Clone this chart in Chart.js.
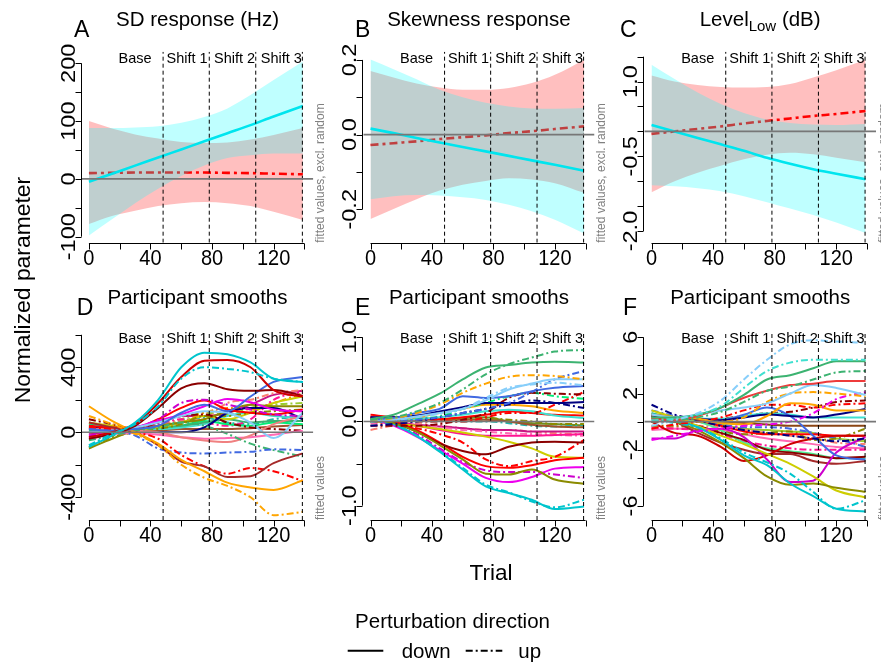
<!DOCTYPE html>
<html lang="en">
<head>
  <meta charset="UTF-8" />
  <title>Normalized parameter by trial</title>
  <script src="https://cdn.jsdelivr.net/npm/chart.js"></script>
  <style>
    body { margin: 0; background: #fff; }
    #wrap { position: relative; width: 881px; height: 662px; }
    canvas { position: absolute; left: 0; top: 0; }
  </style>
</head>
<body>
<div id="wrap">
  <canvas id="pA" width="881" height="662"></canvas>
  <canvas id="pB" width="881" height="662"></canvas>
  <canvas id="pC" width="881" height="662"></canvas>
  <canvas id="pD" width="881" height="662"></canvas>
  <canvas id="pE" width="881" height="662"></canvas>
  <canvas id="pF" width="881" height="662"></canvas>
</div>

<script>
const W = 881, H = 662;
const FONT = '"Liberation Sans", Arial, Helvetica, sans-serif';

// --- shared x data ---
const trialKnots = [0, 15, 30, 45, 60, 75, 90, 105, 120, 139];
const xTicks = [0, 20, 40, 60, 80, 100, 120, 140];
const xTickLabels = ['0', '40', '80', '120'];
const phaseBounds = [48.2, 78.2, 108.4, 138.7];
const phaseNames = ['Base', 'Shift 1', 'Shift 2', 'Shift 3'];
const phaseLabelAt = [30, 63.8, 94.6, 125];
const X_MIN = -4.7, X_MAX = 145.8;

// --- A: SD response (Hz) ---
const sdDown   = [-5, 9, 23, 37, 51, 65, 79, 93, 108, 126];
const sdDownHi = [88, 88, 89, 91, 97, 107, 122, 145, 171, 203];
const sdDownLo = [-98, -70, -42, -17, 5, 23, 36, 41, 44, 44];
const sdUp     = [10, 10.5, 11, 11, 11, 11, 10.5, 10, 9, 8];
const sdUpHi   = [100, 87, 77, 70, 64, 62, 63, 68, 76, 88];
const sdUpLo   = [-78, -64, -55, -47, -42, -40, -42, -47, -57, -71];
const sdTicks  = [-100, -50, 0, 50, 100, 150, 200];
const sdLabels = ['-100', '0', '100', '200'];

// --- B: Skewness response ---
const skDown   = [0.016, 0.004, -0.009, -0.021, -0.033, -0.045, -0.057, -0.069, -0.081, -0.097];
const skDownHi = [0.201, 0.175, 0.148, 0.12, 0.1, 0.085, 0.075, 0.07, 0.069, 0.071];
const skDownLo = [-0.173, -0.165, -0.162, -0.163, -0.168, -0.175, -0.188, -0.205, -0.228, -0.265];
const skUp     = [-0.028, -0.023, -0.018, -0.012, -0.007, -0.002, 0.004, 0.009, 0.015, 0.022];
const skUpHi   = [0.17, 0.153, 0.137, 0.126, 0.12, 0.12, 0.125, 0.138, 0.16, 0.2];
const skUpLo   = [-0.226, -0.199, -0.173, -0.15, -0.134, -0.124, -0.117, -0.12, -0.13, -0.156];
const skTicks  = [-0.2, -0.1, 0, 0.1, 0.2];
const skLabels = ['-0.2', '0.0', '0.2'];

// --- C: Level Low (dB) ---
const lvDown   = [0.13, 0.0, -0.13, -0.26, -0.39, -0.53, -0.65, -0.76, -0.85, -0.96];
const lvDownHi = [1.34, 1.05, 0.78, 0.55, 0.37, 0.24, 0.17, 0.14, 0.13, 0.15];
const lvDownLo = [-1.08, -1.1, -1.14, -1.2, -1.3, -1.42, -1.55, -1.68, -1.83, -2.04];
const lvUp     = [-0.05, 0.0, 0.05, 0.1, 0.16, 0.21, 0.26, 0.31, 0.35, 0.41];
const lvUpHi   = [1.12, 1.0, 0.93, 0.89, 0.88, 0.89, 0.95, 1.08, 1.23, 1.44];
const lvUpLo   = [-1.22, -1.0, -0.83, -0.69, -0.56, -0.47, -0.43, -0.46, -0.53, -0.62];
const lvTicks  = [-2, -1.5, -1, -0.5, 0, 0.5, 1, 1.5];
const lvLabels = ['-2.0', '-0.5', '1.0'];

// --- D: participant smooths, SD ---
const smSD = [
  [-90, -20, 60, 200, 400, 490, 480, 430, 330, 310],
  [-80, -10, 50, 160, 330, 400, 390, 370, 330, 310],
  [-30, 0, 50, 180, 340, 440, 445, 400, 260, 220],
  [-40, -10, 40, 150, 270, 302, 265, 255, 260, 225],
  [20, 10, 20, 40, 120, 170, 130, 220, 310, 340],
  [160, 70, 0, -70, -170, -240, -310, -340, -355, -295],
  [100, 50, -10, -80, -200, -280, -330, -400, -510, -490],
  [60, 30, 0, -80, -180, -210, -275, -270, -190, -130],
  [30, 20, 0, -40, -140, -210, -255, -220, -240, -300],
  [20, 10, -20, -100, -125, -130, -125, -120, -105, -110],
  [-50, -20, 10, 30, 60, 40, -10, -70, -110, -150],
  [0, 10, 30, 60, 100, 130, 120, 60, -35, 120],
  [-40, -10, 30, 70, 110, 160, 205, 185, 140, 130],
  [-20, 0, 30, 80, 180, 200, 170, 140, 110, 100],
  [40, 30, 30, 80, 150, 195, 140, 120, 110, 140],
  [20, 20, 10, 0, -30, -50, -60, -20, 50, 100],
  [-20, -10, -5, -15, -30, -40, -35, -30, -15, 10],
  [30, 20, 10, 0, 0, 30, 120, 150, 150, 80],
  [80, 50, 20, 60, 100, 110, 60, 30, 20, 10],
  [-100, -40, 10, 40, 60, 80, 130, 170, 160, 160],
  [-90, -30, 0, 20, 50, 100, 100, 120, 130, 140],
  [60, 40, 20, 30, 60, 100, 80, 120, 180, 220],
  [10, 10, 20, 30, 40, 60, 80, 60, 70, 70],
  [40, 30, 20, 20, 30, 50, 100, 120, 100, 90],
  [50, 30, 20, 20, 40, 70, 50, 40, 60, 50],
  [0, 10, 10, 10, 20, 20, 20, 25, 35, 45],
  [-30, -10, 10, 50, 80, 60, 40, 80, 200, 250],
  [20, 20, 30, 40, 60, 120, 150, 140, 180, 240],
  [40, 30, 20, 40, 70, 80, 180, 200, 240, 260],
  [-10, 0, 20, 60, 100, 100, 120, 170, 230, 255],
  [10, 10, 20, 40, 70, 90, 60, 50, 80, 100],
  [30, 20, 20, 40, 80, 120, 110, 150, 170, 180]
];
const smSDDir = ['down','up','down','down','down','down','up','down','up','up','up','down','down','up','down','down',
                 'down','down','up','down','up','down','down','down','down','down','up','up','up','down','up','up'];
const smSDCol = ['#00C5CD','#00C5CD','#CD0000','#8B0000','#4169E1','#FFA500','#FFA500','#A52A2A','#FF0000','#4169E1',
                 '#3CB371','#87CEFA','#EE00EE','#CD00CD','#FF0000','#F08080','#FF69B4','#000080','#8B0000','#8B8B00',
                 '#8B8B00','#CDCD00','#3CB371','#40E0D0','#00EE76','#A0522D','#FF1493','#FF8C00','#FA8072','#C71585',
                 '#20B2AA','#9ACD32'];
const smSDTicks = [-400, -200, 0, 200, 400, 600];
const smSDLabels = ['-400', '0', '400'];

// --- E: participant smooths, skewness ---
const smSk = [
  [0.03, 0.08, 0.2, 0.33, 0.5, 0.64, 0.67, 0.70, 0.71, 0.70],
  [0.02, 0.05, 0.12, 0.22, 0.38, 0.56, 0.68, 0.76, 0.83, 0.85],
  [0.02, 0.04, 0.1, 0.2, 0.34, 0.45, 0.53, 0.55, 0.54, 0.5],
  [0.0, 0.02, 0.06, 0.1, 0.15, 0.25, 0.38, 0.45, 0.5, 0.5],
  [0.01, 0.02, 0.05, 0.09, 0.15, 0.28, 0.4, 0.44, 0.46, 0.43],
  [0.02, 0.04, 0.1, 0.15, 0.3, 0.28, 0.3, 0.36, 0.4, 0.42],
  [0.0, 0.01, 0.02, 0.05, 0.1, 0.15, 0.22, 0.35, 0.5, 0.6],
  [0.05, 0.05, 0.07, 0.12, 0.17, 0.22, 0.22, 0.22, 0.22, 0.23],
  [-0.05, -0.03, 0.0, 0.05, 0.1, 0.15, 0.2, 0.25, 0.22, 0.16],
  [-0.05, -0.05, -0.05, -0.03, 0.02, 0.1, 0.28, 0.34, 0.33, 0.32],
  [0.05, 0.02, 0.0, 0.0, 0.0, 0.05, 0.1, 0.1, 0.2, 0.35],
  [0.0, 0.01, 0.03, 0.06, 0.15, 0.22, 0.3, 0.34, 0.3, 0.27],
  [0.0, 0.02, 0.05, 0.1, 0.15, 0.2, 0.2, 0.18, 0.13, 0.1],
  [0.02, 0.02, 0.03, 0.05, 0.08, 0.12, 0.14, 0.12, 0.07, 0.04],
  [0.08, 0.05, 0.04, 0.03, 0.05, 0.08, 0.12, 0.1, 0.08, 0.07],
  [0.0, 0.01, 0.03, 0.03, 0.03, 0.04, 0.02, 0.0, -0.03, -0.03],
  [0.03, -0.02, -0.12, -0.28, -0.45, -0.62, -0.63, -0.57, -0.69, -0.74],
  [0.03, -0.03, -0.17, -0.36, -0.57, -0.77, -0.85, -0.93, -1.04, -1.01],
  [0.02, -0.04, -0.17, -0.35, -0.55, -0.75, -0.84, -0.95, -1.02, -0.93],
  [0.03, -0.05, -0.18, -0.34, -0.5, -0.67, -0.72, -0.66, -0.56, -0.54],
  [0.05, -0.04, -0.15, -0.32, -0.48, -0.58, -0.6, -0.6, -0.63, -0.67],
  [0.03, -0.02, -0.12, -0.26, -0.35, -0.39, -0.3, -0.25, -0.24, -0.25],
  [0.05, 0.0, -0.1, -0.25, -0.42, -0.53, -0.55, -0.52, -0.46, -0.43],
  [0.0, -0.03, -0.08, -0.15, -0.25, -0.45, -0.53, -0.47, -0.42, -0.22],
  [0.0, -0.02, -0.05, -0.09, -0.13, -0.18, -0.24, -0.32, -0.42, -0.43],
  [0.02, 0.0, -0.05, -0.1, -0.15, -0.17, -0.17, -0.17, -0.16, -0.15],
  [-0.02, -0.03, -0.04, -0.07, -0.1, -0.12, -0.14, -0.15, -0.16, -0.17],
  [0.02, 0.0, -0.04, -0.06, -0.08, -0.1, -0.1, -0.12, -0.12, -0.12],
  [0.0, 0.01, 0.02, 0.02, 0.02, 0.02, 0.0, -0.04, -0.06, -0.07],
  [-0.1, -0.05, -0.03, -0.05, -0.08, -0.1, -0.1, -0.12, -0.14, -0.15],
  [0.02, 0.01, 0.0, 0.0, 0.0, 0.0, -0.02, -0.05, -0.06, -0.04],
  [0.02, 0.02, 0.03, 0.03, 0.04, 0.05, 0.0, -0.02, -0.03, -0.05]
];
const smSkDir = ['down','up','up','down','up','down','up','down','up','up','up','up','down','down','down','up',
                 'down','down','up','down','up','down','down','up','down','down','up','down','down','up','up','down'];
const smSkCol = ['#3CB371','#3CB371','#FFA500','#87CEFA','#87CEFA','#4169E1','#4169E1','#000080','#000080','#8B0000',
                 '#FF0000','#00EE76','#FFA500','#40E0D0','#FF0000','#8B8B00','#8B8B00','#00C5CD','#00C5CD','#EE00EE',
                 '#CD00CD','#8B0000','#FF0000','#FF0000','#CDCD00','#FF1493','#FF69B4','#C71585','#A0522D','#FA8072',
                 '#20B2AA','#6B8E23'];
const smSkTicks = [-1, -0.5, 0, 0.5, 1];
const smSkLabels = ['-1.0', '0.0', '1.0'];

// --- F: participant smooths, level low ---
const smLv = [
  [-0.3, 0.1, 0.6, 1.5, 3.0, 4.4, 5.5, 5.8, 5.7, 5.6],
  [0.1, 0.2, 0.5, 1.1, 2.4, 3.6, 4.2, 4.4, 4.4, 4.4],
  [0.3, 0.3, 0.5, 1.0, 1.9, 3.0, 3.3, 3.8, 4.3, 4.3],
  [0.0, 0.1, 0.3, 0.7, 1.4, 2.2, 2.5, 3.0, 3.5, 3.6],
  [0.2, 0.1, 0.4, 1.0, 1.7, 2.2, 2.6, 2.7, 2.9, 2.9],
  [0.5, 0.3, 0.5, 0.8, 1.0, 1.3, 2.0, 2.6, 2.4, 1.9],
  [0.3, 0.1, 0.0, 0.0, 0.3, 1.4, 2.0, 2.1, 2.0, 1.8],
  [-1.3, -1.0, -0.7, -0.5, -0.3, -0.2, 0.0, 0.6, 1.6, 2.1],
  [0.5, 0.3, 0.2, -0.1, -0.2, 0.4, 1.3, 1.2, 0.8, 0.8],
  [-0.5, -0.2, 0.0, 0.3, 0.8, 1.2, 1.2, 1.0, 1.2, 1.3],
  [1.2, 0.5, 0.1, -0.3, -0.6, -0.8, -1.0, -1.2, -1.4, -1.2],
  [0.4, 0.3, 0.2, 0.1, 0.3, 0.5, 0.4, 0.3, 0.5, 0.9],
  [0.5, 0.3, 0.2, 0.1, 0.5, 1.0, 0.4, -1.0, -2.4, -2.7],
  [0.6, 0.1, -0.4, -1.3, -2.4, -3.1, -4.4, -5.3, -6.2, -6.4],
  [0.2, -0.1, -0.4, -1.2, -2.2, -2.9, -3.7, -5.0, -6.2, -5.6],
  [0.5, 0.0, -0.6, -1.5, -2.6, -3.9, -4.5, -4.4, -4.7, -5.0],
  [0.8, 0.3, -0.3, -1.0, -1.6, -2.3, -3.0, -3.9, -4.9, -5.4],
  [-1.2, -1.2, -0.6, -0.5, -1.1, -2.7, -4.3, -4.2, -2.2, -1.1],
  [0.0, -0.8, -1.0, -1.8, -2.8, -2.4, -1.6, -1.2, -1.0, -1.0],
  [0.5, 0.0, -0.8, -1.5, -2.0, -2.3, -2.3, -2.8, -3.0, -2.8],
  [0.3, 0.0, -0.3, -0.8, -1.3, -2.0, -2.2, -2.4, -2.6, -2.5],
  [0.3, 0.2, 0.0, -0.6, -1.5, -1.9, -2.1, -2.3, -2.6, -2.6],
  [0.4, 0.2, 0.0, -0.3, -0.7, -0.9, -0.9, -0.9, -1.0, -1.0],
  [0.3, 0.2, 0.1, 0.0, -0.1, -0.2, -0.3, -0.3, -0.3, -0.3],
  [-0.3, -0.3, -0.4, -0.7, -0.9, -0.8, -0.7, -1.3, -1.2, -0.5],
  [-0.4, -0.5, -0.6, -0.9, -1.4, -1.7, -1.9, -2.0, -2.0, -2.0],
  [-0.6, -0.5, -0.5, -0.6, -0.9, -1.2, -1.4, -1.6, -1.8, -1.9],
  [0.3, 0.2, 0.2, 0.2, 0.4, 0.6, 0.5, 0.3, 0.3, 0.3],
  [0.0, 0.0, 0.0, 0.2, 0.4, 0.6, 0.7, 1.0, 1.4, 1.5],
  [0.8, 0.4, 0.1, -0.2, -0.4, -0.4, -0.5, -0.8, -1.2, -1.8],
  [-0.5, -0.4, -0.3, -0.4, -0.6, -0.8, -1.0, -1.2, -1.5, -1.6],
  [0.6, 0.3, 0.0, -0.2, -0.5, -0.6, -0.7, -0.8, -1.2, -1.4]
];
const smLvDir = ['up','up','down','up','down','down','up','up','down','up','up','down','down','down','up','down',
                 'down','down','down','down','down','down','down','down','up','up','down','down','up','up','up','down'];
const smLvCol = ['#87CEFA','#40E0D0','#3CB371','#3CB371','#EE3B3B','#87CEFA','#FFA500','#EE00EE','#FFA500','#FF0000',
                 '#000080','#000080','#4169E1','#00C5CD','#00C5CD','#8B8B00','#CDCD00','#CD00CD','#CD0000','#A52A2A',
                 '#8B0000','#4EEE94','#FF0000','#8B4513','#8B8B00','#FF1493','#FF69B4','#40E0D0','#8B0000','#4169E1',
                 '#FA8072','#9ACD32'];
const smLvTicks = [-6, -4, -2, 0, 2, 4, 6];
const smLvLabels = ['-6', '-2', '2', '6'];

// ---------------------------------------------------------------
function pts(vals) {
  return trialKnots.map((t, i) => ({ x: t, y: vals[i] }));
}

function guideSets(yMin, yMax) {
  const sets = [{ data: [{ x: X_MIN, y: 0 }, { x: X_MAX, y: 0 }], borderColor: '#777', borderWidth: 1.6 }];
  phaseBounds.forEach(b => sets.push({
    data: [{ x: b, y: yMin }, { x: b, y: yMax }],
    borderColor: '#000', borderWidth: 1, borderDash: [4, 3]
  }));
  return sets;
}

function band(vals, fillColor) {
  return { data: pts(vals), borderWidth: 0, borderColor: 'transparent', backgroundColor: fillColor,
           fill: fillColor ? '+1' : false, cubicInterpolationMode: 'monotone' };
}

// index 0 draws last, so: cyan line, cyan band, red line, red band
function fitSets(down, downHi, downLo, up, upHi, upLo) {
  return [
    { data: pts(down), borderColor: '#00E5EE', borderWidth: 2.6, cubicInterpolationMode: 'monotone' },
    band(downHi, 'rgba(0,255,255,0.25)'),
    band(downLo, null),
    { data: pts(up), borderColor: '#FF0000', borderWidth: 2.6, borderDash: [8, 4, 3, 4], cubicInterpolationMode: 'monotone' },
    band(upHi, 'rgba(255,0,0,0.25)'),
    band(upLo, null)
  ];
}

function smoothSets(rows, dirs, cols) {
  return rows.map((r, i) => ({
    data: pts(r), borderColor: cols[i], borderWidth: 2,
    borderDash: dirs[i] === 'up' ? [7, 3, 2, 3] : [],
    cubicInterpolationMode: 'monotone'
  }));
}

function drawRuns(ctx, runs, cx, y) {
  let total = 0;
  runs.forEach(r => { ctx.font = r.size + 'px ' + FONT; r.w = ctx.measureText(r.text).width; total += r.w; });
  let x = cx - total / 2;
  ctx.textAlign = 'left';
  runs.forEach(r => { ctx.font = r.size + 'px ' + FONT; ctx.fillText(r.text, x, y + (r.dy || 0)); x += r.w; });
}

function decor(p) {
  return {
    id: 'decor' + p.letter,
    afterDatasetsDraw(chart) {
      const ctx = chart.ctx, xs = chart.scales.x, ys = chart.scales.y, a = chart.chartArea;
      ctx.save();
      ctx.strokeStyle = '#000';
      ctx.fillStyle = '#000';
      ctx.lineWidth = 1;

      // axes, R style
      const yb = Math.round(a.bottom) + 0.5;
      const xl = Math.round(a.left) - 0.5;
      ctx.beginPath();
      ctx.moveTo(xs.getPixelForValue(xTicks[0]), yb);
      ctx.lineTo(xs.getPixelForValue(xTicks[xTicks.length - 1]), yb);
      xTicks.forEach(t => {
        const px = Math.round(xs.getPixelForValue(t)) + 0.5;
        ctx.moveTo(px, yb); ctx.lineTo(px, yb + 6);
      });
      ctx.moveTo(xl, ys.getPixelForValue(p.yTicks[0]));
      ctx.lineTo(xl, ys.getPixelForValue(p.yTicks[p.yTicks.length - 1]));
      p.yTicks.forEach(t => {
        const py = Math.round(ys.getPixelForValue(t)) + 0.5;
        ctx.moveTo(xl, py); ctx.lineTo(xl - 6, py);
      });
      ctx.stroke();

      ctx.textAlign = 'center';
      ctx.textBaseline = 'alphabetic';
      ctx.font = '20px ' + FONT;
      xTickLabels.forEach(s => {
        ctx.save();
        ctx.translate(xs.getPixelForValue(parseFloat(s)), a.bottom + 22);
        ctx.scale(1, 1.08);
        ctx.fillText(s, 0, 0);
        ctx.restore();
      });
      ctx.font = '21px ' + FONT;
      p.yLabels.forEach(s => {
        ctx.save();
        ctx.translate(a.left - 7, ys.getPixelForValue(parseFloat(s)));
        ctx.scale(1, 1.12);
        ctx.rotate(-Math.PI / 2);
        ctx.fillText(s, 0, 0);
        ctx.restore();
      });

      // phase labels
      ctx.font = '14.5px ' + FONT;
      phaseNames.forEach((s, i) => ctx.fillText(s, xs.getPixelForValue(phaseLabelAt[i]), a.top + 11.5));

      // side note
      ctx.save();
      ctx.fillStyle = '#808080';
      ctx.font = '12px ' + FONT;
      ctx.textAlign = 'left';
      ctx.translate(a.right + 10.5, a.bottom);
      ctx.rotate(-Math.PI / 2);
      ctx.fillText(p.note, 0, 0);
      ctx.restore();

      // title and letter
      drawRuns(ctx, p.title, (a.left + a.right) / 2, p.titleY);
      ctx.font = '23px ' + FONT;
      ctx.textAlign = 'left';
      ctx.fillText(p.letter, p.letterX, p.letterY);

      if (p.extra) p.extra(ctx);
      ctx.restore();
    }
  };
}

function drawShared(ctx) {
  ctx.fillStyle = '#000';
  ctx.strokeStyle = '#000';
  ctx.textAlign = 'center';
  ctx.font = '22px ' + FONT;
  ctx.save();
  ctx.translate(30, 290);
  ctx.scale(1, 1.04);
  ctx.rotate(-Math.PI / 2);
  ctx.fillText('Normalized parameter', 0, 0);
  ctx.restore();
  ctx.font = '22.5px ' + FONT;
  ctx.fillText('Trial', 491, 580);
  ctx.font = '20.5px ' + FONT;
  ctx.fillText('Perturbation direction', 452.5, 628.3);
  ctx.textAlign = 'left';
  ctx.fillText('down', 401.7, 658.3);
  ctx.fillText('up', 518.3, 658.3);
  ctx.lineWidth = 2;
  ctx.beginPath(); ctx.moveTo(347.7, 650.7); ctx.lineTo(383.3, 650.7); ctx.stroke();
  ctx.setLineDash([7, 3, 2, 3]);
  ctx.beginPath(); ctx.moveTo(465.7, 650.7); ctx.lineTo(502.3, 650.7); ctx.stroke();
  ctx.setLineDash([]);
}

function makePanel(p) {
  const r = p.area;
  return new Chart(document.getElementById(p.id), {
    type: 'line',
    data: { datasets: guideSets(p.yMin, p.yMax).concat(p.sets) },
    options: {
      responsive: false,
      animation: false,
      devicePixelRatio: 1,
      events: [],
      layout: { padding: { left: r[0], top: r[1], right: W - r[2], bottom: H - r[3] } },
      scales: {
        x: { type: 'linear', min: X_MIN, max: X_MAX, display: false },
        y: { type: 'linear', min: p.yMin, max: p.yMax, display: false }
      },
      elements: { point: { radius: 0 }, line: { tension: 0, fill: false } },
      plugins: { legend: { display: false }, tooltip: { enabled: false }, title: { display: false } }
    },
    plugins: [decor(p)]
  });
}

const noteTop = 'fitted values, excl. random';
const noteBottom = 'fitted values';
const big = 20.5;

makePanel({ id: 'pA', letter: 'A', letterX: 74, letterY: 36.5, titleY: 26,
  title: [{ text: 'SD response (Hz)', size: big }], note: noteTop,
  area: [81.7, 51.7, 313.3, 242.7], yMin: -110.4, yMax: 220.1, yTicks: sdTicks, yLabels: sdLabels,
  sets: fitSets(sdDown, sdDownHi, sdDownLo, sdUp, sdUpHi, sdUpLo) });

makePanel({ id: 'pB', letter: 'B', letterX: 355, letterY: 36.5, titleY: 26,
  title: [{ text: 'Skewness response', size: big }], note: noteTop,
  area: [363.3, 51.7, 594.5, 242.7], yMin: -0.2895, yMax: 0.222, yTicks: skTicks, yLabels: skLabels,
  sets: fitSets(skDown, skDownHi, skDownLo, skUp, skUpHi, skUpLo) });

makePanel({ id: 'pC', letter: 'C', letterX: 620, letterY: 36.5, titleY: 26,
  title: [{ text: 'Level', size: big }, { text: 'Low', size: 15, dy: 5 }, { text: ' (dB)', size: big }], note: noteTop,
  area: [644.3, 51.7, 876, 242.7], yMin: -2.234, yMax: 1.6, yTicks: lvTicks, yLabels: lvLabels,
  sets: fitSets(lvDown, lvDownHi, lvDownLo, lvUp, lvUpHi, lvUpLo) });

makePanel({ id: 'pD', letter: 'D', letterX: 76.7, letterY: 315, titleY: 304,
  title: [{ text: 'Participant smooths', size: big }], note: noteBottom,
  area: [81.7, 331.7, 313.3, 520], yMin: -540, yMax: 619, yTicks: smSDTicks, yLabels: smSDLabels,
  sets: smoothSets(smSD, smSDDir, smSDCol) });

makePanel({ id: 'pE', letter: 'E', letterX: 355, letterY: 315, titleY: 304,
  title: [{ text: 'Participant smooths', size: big }], note: noteBottom,
  area: [363.3, 331.7, 594.5, 520], yMin: -1.17, yMax: 1.066, yTicks: smSkTicks, yLabels: smSkLabels,
  sets: smoothSets(smSk, smSkDir, smSkCol) });

makePanel({ id: 'pF', letter: 'F', letterX: 623, letterY: 315, titleY: 304,
  title: [{ text: 'Participant smooths', size: big }], note: noteBottom,
  area: [644.3, 331.7, 876, 520], yMin: -7.0, yMax: 6.4, yTicks: smLvTicks, yLabels: smLvLabels,
  sets: smoothSets(smLv, smLvDir, smLvCol), extra: drawShared });
</script>
</body>
</html>
